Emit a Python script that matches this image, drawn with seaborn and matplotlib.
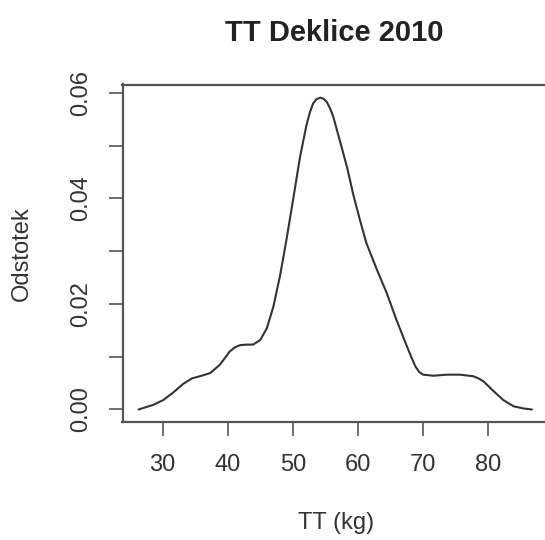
import matplotlib
matplotlib.use("Agg")
import matplotlib.pyplot as plt
import seaborn as sns
import numpy as np

# Density curve of TT (kg)
tt = [26.3, 28.6, 30.1, 31.6, 33.2, 34.5, 35.7, 37.3, 38.8, 40.3, 41.1, 41.9,
      43.0, 43.9, 45.0, 46.0, 47.0, 48.0, 49.0, 50.1, 51.1, 52.1, 52.6, 53.1,
      53.6, 54.2, 54.7, 55.2, 55.7, 56.2, 57.2, 58.3, 59.3, 60.3, 61.3, 62.9,
      64.4, 65.9, 67.5, 68.2, 68.8, 69.4, 70.0, 71.6, 73.6, 75.7, 77.7, 78.5,
      79.3, 80.8, 82.3, 83.9, 85.4, 86.7]
density = [0.0000, 0.0009, 0.0018, 0.0032, 0.0049, 0.0059, 0.0063, 0.0069,
           0.0085, 0.0110, 0.0118, 0.0122, 0.0123, 0.0123, 0.0132, 0.0154,
           0.0195, 0.0252, 0.0321, 0.0403, 0.0479, 0.0540, 0.0563, 0.0580,
           0.0588, 0.0591, 0.0589, 0.0583, 0.0571, 0.0555, 0.0510, 0.0460,
           0.0406, 0.0359, 0.0315, 0.0265, 0.0221, 0.0170, 0.0120, 0.0099,
           0.0082, 0.0071, 0.0066, 0.0064, 0.0066, 0.0066, 0.0063, 0.0059,
           0.0053, 0.0035, 0.0018, 0.0006, 0.0002, 0.0000]
x_ticks = [30, 40, 50, 60, 70, 80]
y_ticks = [0.00, 0.01, 0.02, 0.03, 0.04, 0.05, 0.06]
y_tick_labels = ["0.00", "", "0.02", "", "0.04", "", "0.06"]
title = "TT Deklice 2010"
x_label = "TT (kg)"
y_label = "Odstotek"

sns.set_style("white")
plt.rcParams["font.family"] = ["Liberation Sans", "DejaVu Sans"]

W, H = 545, 540
fig = plt.figure(figsize=(W / 100, H / 100), dpi=100)
left_px, right_px, top_px, bottom_px = 122.5, 547.5, 84.5, 422.0
ax = fig.add_axes([left_px / W, 1 - bottom_px / H,
                   (right_px - left_px) / W, (bottom_px - top_px) / H])

sns.lineplot(x=tt, y=density, sort=False, estimator=None, ax=ax,
             color="#333333", linewidth=1.5)

ax.set_xlim(23.83, 89.1)
ax.set_ylim(-0.00237, 0.0616)
ax.set_xticks(x_ticks)
ax.set_xticklabels([str(v) for v in x_ticks])
ax.set_yticks(y_ticks)
ax.set_yticklabels(y_tick_labels)

for s in ax.spines.values():
    s.set_visible(True)
    s.set_color("#555555")
    s.set_linewidth(1.6)

ax.tick_params(axis="both", which="major", direction="out", length=10,
               width=1.2, color="#555555", labelsize=17, labelcolor="#333333",
               bottom=True, left=True)
ax.tick_params(axis="x", pad=13)
ax.tick_params(axis="y", pad=12, labelrotation=90)
for lab in ax.get_yticklabels():
    lab.set_va("center")

ax.set_xlabel(x_label, fontsize=17, color="#333333")
ax.set_ylabel(y_label, fontsize=17, color="#333333")
ax.xaxis.set_label_coords((336 - left_px) / (right_px - left_px),
                          (bottom_px - 523) / (bottom_px - top_px))
ax.xaxis.label.set_va("center")
ax.yaxis.set_label_coords((22 - left_px) / (right_px - left_px), 0.5)
ax.yaxis.label.set_va("center")

fig.text(334 / W, 1 - 33 / H, title, ha="center", va="center",
         fontsize=21, fontweight="bold", color="#222222")

fig.savefig("out.png", dpi=100)
